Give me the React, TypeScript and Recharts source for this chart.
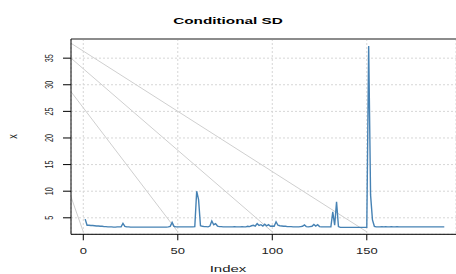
import { LineChart, Line, XAxis, YAxis, CartesianGrid, ReferenceLine } from 'recharts'

// conditional SD, index 1..191
const SD = [
  4.75, 3.6, 3.6, 3.55, 3.55, 3.5, 3.45, 3.45, 3.4, 3.4,
  3.35, 3.35, 3.3, 3.3, 3.3, 3.25, 3.25, 3.3, 3.3, 3.3,
  3.95, 3.4, 3.3, 3.3, 3.25, 3.25, 3.25, 3.25, 3.25, 3.25,
  3.25, 3.25, 3.25, 3.25, 3.25, 3.25, 3.25, 3.25, 3.25, 3.25,
  3.25, 3.25, 3.25, 3.25, 3.3, 3.4, 4.15, 3.4, 3.3, 3.3,
  3.3, 3.3, 3.3, 3.3, 3.3, 3.3, 3.3, 3.3, 3.35, 10.0,
  8.4, 3.5, 3.4, 3.35, 3.35, 3.3, 3.45, 4.4, 3.7, 3.9,
  3.45, 3.35, 3.35, 3.3, 3.3, 3.3, 3.3, 3.3, 3.3, 3.35,
  3.3, 3.3, 3.3, 3.35, 3.3, 3.3, 3.4, 3.35, 3.5, 3.6,
  3.45, 3.9, 3.55, 3.7, 3.45, 3.8, 3.5, 3.7, 3.4, 3.45,
  3.4, 4.25, 3.6, 3.5, 3.45, 3.4, 3.4, 3.35, 3.35, 3.35,
  3.3, 3.3, 3.3, 3.3, 3.35, 3.4, 3.65, 3.35, 3.3, 3.35,
  3.4, 3.75, 3.45, 3.7, 3.35, 3.3, 3.3, 3.3, 3.3, 3.3,
  3.3, 6.1, 3.6, 8.0, 3.35, 3.2, 3.2, 3.2, 3.2, 3.2,
  3.2, 3.2, 3.2, 3.2, 3.2, 3.2, 3.2, 3.2, 3.2, 3.2,
  37.3, 9.3, 4.6, 3.4, 3.3, 3.3, 3.3, 3.35, 3.3, 3.35,
  3.3, 3.3, 3.35, 3.3, 3.3, 3.35, 3.3, 3.3, 3.3, 3.3,
  3.3, 3.3, 3.3, 3.3, 3.3, 3.3, 3.3, 3.3, 3.3, 3.3,
  3.3, 3.3, 3.3, 3.3, 3.3, 3.3, 3.3, 3.3, 3.3, 3.3,
  3.3,
]

const X_TICKS = [0, 50, 100, 150]
const Y_TICKS = [5, 10, 15, 20, 25, 30, 35]

// grey diagonals: value at the left edge, index where they hit bottom
const GREY_FROM = [37.8, 35.0, 28.7, 8.95]
const GREY_TO_INDEX = [150, 100, 50, 0]
const GREY_TO = 2.37

const X_MIN = -6.5
const X_MAX = 197.2
const Y_MIN = 1.9
const Y_MAX = 38.6

const data = SD.map((v, k) => ({ i: k + 1, v }))
const greySegs = GREY_FROM.map((v, k) => [
  { i: X_MIN, v },
  { i: GREY_TO_INDEX[k], v: GREY_TO },
])

const FONT = '"Liberation Sans", Arial, Helvetica, sans-serif'

function XTick({ x, payload }: any) {
  return (
    <text
      transform={`translate(${x},253.5) scale(1,0.65)`}
      textAnchor="middle"
      fontSize={13}
      fontFamily={FONT}
      fill="#222"
    >
      {payload.value}
    </text>
  )
}

function YTick({ y, payload }: any) {
  return (
    <text
      transform={`translate(52.7,${y}) scale(1,0.72) rotate(-90)`}
      textAnchor="middle"
      fontSize={10}
      fontFamily={FONT}
      fill="#222"
    >
      {payload.value}
    </text>
  )
}

export default function App() {
  return (
    <div style={{ position: 'absolute', left: 0, top: 0, width: 456, height: 274, background: '#fff' }}>
      <LineChart width={456} height={274} data={data} margin={{ top: 39, right: 0, bottom: 0, left: 0 }}>
        <CartesianGrid stroke="#d6d6d6" strokeDasharray="2 2" />
        <XAxis
          type="number"
          dataKey="i"
          domain={[X_MIN, X_MAX]}
          allowDataOverflow
          ticks={X_TICKS}
          height={39.7}
          tickSize={6}
          axisLine={{ stroke: '#000' }}
          tickLine={{ stroke: '#000' }}
          tick={<XTick />}
        />
        <YAxis
          type="number"
          domain={[Y_MIN, Y_MAX]}
          allowDataOverflow
          ticks={Y_TICKS}
          width={71}
          tickSize={8}
          axisLine={{ stroke: '#000' }}
          tickLine={{ stroke: '#000' }}
          tick={<YTick />}
        />
        <ReferenceLine y={Y_MAX} stroke="#8c8c8c" strokeWidth={2} />
        {greySegs.map((seg, k) => (
          <Line
            key={k}
            data={seg}
            dataKey="v"
            stroke="#cfcfcf"
            strokeWidth={1}
            dot={false}
            activeDot={false}
            isAnimationActive={false}
          />
        ))}
        <Line
          dataKey="v"
          stroke="#4682b4"
          strokeWidth={1.4}
          dot={false}
          activeDot={false}
          isAnimationActive={false}
        />
      </LineChart>
      <svg width={456} height={274} style={{ position: 'absolute', left: 0, top: 0, pointerEvents: 'none' }}>
        <text
          transform="translate(228,24) scale(1,0.65)"
          textAnchor="middle"
          fontSize={15.3}
          fontWeight="bold"
          fontFamily={FONT}
          fill="#000"
        >
          Conditional SD
        </text>
        <text
          transform="translate(228,272) scale(1,0.65)"
          textAnchor="middle"
          fontSize={15}
          fontFamily={FONT}
          fill="#222"
        >
          Index
        </text>
        <text
          transform="translate(16.7,136.5) scale(1,0.75) rotate(-90)"
          textAnchor="middle"
          fontSize={12}
          fontFamily={FONT}
          fill="#222"
        >
          x
        </text>
      </svg>
    </div>
  )
}
